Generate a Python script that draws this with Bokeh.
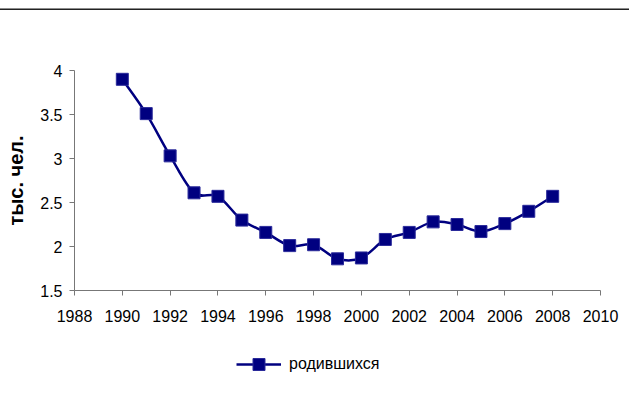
from bokeh.plotting import figure
from bokeh.layouts import column
from bokeh.models import Legend, LegendItem, GlobalInlineStyleSheet, ColumnDataSource, FixedTicker
from bokeh.embed import file_html
from bokeh.resources import INLINE

years = [1990, 1991, 1992, 1993, 1994, 1995, 1996, 1997, 1998, 1999,
         2000, 2001, 2002, 2003, 2004, 2005, 2006, 2007, 2008]
births = [3.90, 3.51, 3.03, 2.61, 2.57, 2.30, 2.16, 2.01, 2.02, 1.86,
          1.87, 2.08, 2.16, 2.28, 2.25, 2.17, 2.26, 2.40, 2.57]
series_name = "родившихся"
y_label = "тыс. чел."
x_ticks = list(range(1988, 2011, 2))
y_ticks = [1.5, 2, 2.5, 3, 3.5, 4]

NAVY = "#000080"
MARKER_EDGE = "#2a2a9a"

# smoothed curve (Catmull-Rom -> cubic Bezier), computed from the data
n = len(years)
def pt(i):
    i = max(0, min(n - 1, i))
    return years[i], births[i]
x0, y0, x1, y1, cx0, cy0, cx1, cy1 = [], [], [], [], [], [], [], []
for i in range(n - 1):
    pa, pb = pt(i - 1), pt(i)
    pc, pd = pt(i + 1), pt(i + 2)
    x0.append(pb[0]); y0.append(pb[1])
    x1.append(pc[0]); y1.append(pc[1])
    cx0.append(pb[0] + (pc[0] - pa[0]) / 6); cy0.append(pb[1] + (pc[1] - pa[1]) / 6)
    cx1.append(pc[0] - (pd[0] - pb[0]) / 6); cy1.append(pc[1] - (pd[1] - pb[1]) / 6)
bez = ColumnDataSource(dict(x0=x0, y0=y0, x1=x1, y1=y1, cx0=cx0, cy0=cy0, cx1=cx1, cy1=cy1))
pts = ColumnDataSource(dict(x=years, y=births))

p = figure(output_backend="svg", toolbar_location=None,
           width=620, height=330,
           min_border_left=74, min_border_right=20,
           min_border_top=70, min_border_bottom=40,
           x_range=(1988, 2010), y_range=(1.5, 4))
p.outline_line_color = None
p.xgrid.grid_line_color = None
p.ygrid.grid_line_color = None
p.background_fill_color = "white"
p.border_fill_color = "white"

p.bezier(x0="x0", y0="y0", x1="x1", y1="y1", cx0="cx0", cy0="cy0",
         cx1="cx1", cy1="cy1", source=bez, line_color=NAVY, line_width=2.5)
p.scatter(x="x", y="y", source=pts, marker="square", size=12,
          fill_color=NAVY, line_color=MARKER_EDGE, line_width=1)

for ax in (p.xaxis[0], p.yaxis[0]):
    ax.axis_line_color = "#777777"
    ax.major_tick_line_color = "#777777"
    ax.major_tick_out = 5
    ax.major_tick_in = 0
    ax.minor_tick_out = 0
    ax.minor_tick_in = 0
    ax.major_label_text_font = "Liberation Sans"
    ax.major_label_text_font_size = "16px"
    ax.major_label_text_color = "black"

p.xaxis[0].ticker = FixedTicker(ticks=x_ticks)
p.yaxis[0].ticker = FixedTicker(ticks=y_ticks)
p.xaxis[0].major_label_standoff = 14
p.yaxis[0].major_label_standoff = 7
p.yaxis[0].axis_label = y_label
p.yaxis[0].axis_label_text_font = "Liberation Sans"
p.yaxis[0].axis_label_text_font_style = "bold"
p.yaxis[0].axis_label_text_font_size = "20px"
p.yaxis[0].axis_label_text_color = "black"
p.yaxis[0].axis_label_standoff = 10

p.stylesheets = [GlobalInlineStyleSheet(css=(
    "body::before{content:'';position:absolute;left:0;right:0;top:8px;"
    "height:1px;background:#8c8c8c;border-bottom:1px solid #222;z-index:10;}"))]

# legend strip below the chart (its renderers use the real data, which lies
# outside this strip's ranges, so only the legend sample shows)
pl = figure(output_backend="svg", toolbar_location=None,
            width=620, height=50, min_border=0,
            x_axis_type=None, y_axis_type=None,
            x_range=(0, 1), y_range=(0, 1))
pl.outline_line_color = None
pl.xgrid.grid_line_color = None
pl.ygrid.grid_line_color = None
lg_line = pl.line(x="x", y="y", source=pts, line_color=NAVY, line_width=2.5)
lg_pts = pl.scatter(x="x", y="y", source=pts, marker="square", size=12,
                    fill_color=NAVY, line_color=MARKER_EDGE, line_width=1)
legend = Legend(items=[LegendItem(label=series_name, renderers=[lg_line, lg_pts])],
                location=(162, 1), orientation="horizontal",
                padding=0, margin=0, spacing=0,
                glyph_width=45, glyph_height=30, label_height=30,
                label_standoff=8, border_line_color=None,
                background_fill_alpha=0,
                label_text_font="Liberation Sans", label_text_font_size="16px",
                label_text_color="black")
pl.add_layout(legend, "center")

layout = column(p, pl, spacing=0)
open("out.html", "w").write(file_html(layout, INLINE))
